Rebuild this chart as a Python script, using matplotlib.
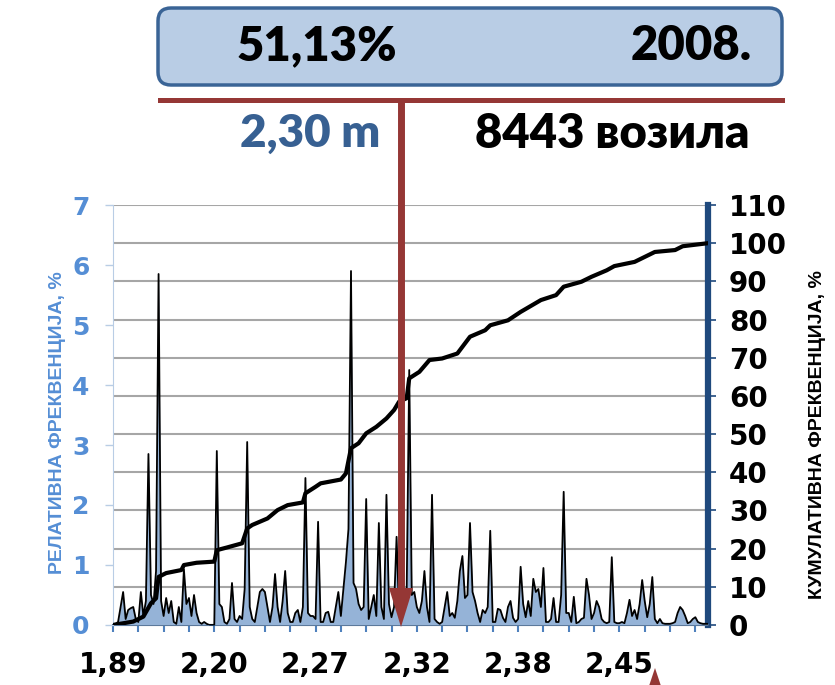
import matplotlib
matplotlib.use('Agg')
import matplotlib.pyplot as plt
import numpy as np
from matplotlib.patches import FancyBboxPatch, Polygon
from matplotlib.lines import Line2D

# relative frequency per width class, %
rel_freq = [
    0.02, 0.02, 0.05, 0.3, 0.55, 0.1, 0.25, 0.28, 0.3, 0.1,
    0.05, 0.55, 0.15, 0.4, 2.85, 0.5, 0.35, 0.9, 5.85, 0.4,
    0.15, 0.45, 0.2, 0.4, 0.05, 0.02, 0.3, 0.05, 0.93, 0.35,
    0.45, 0.15, 0.5, 0.2, 0.05, 0.02, 0.05, 0.02, 0.0, 0.0,
    0.0, 2.9, 0.35, 0.3, 0.05, 0.02, 0.1, 0.7, 0.1, 0.05,
    0.15, 0.1, 0.6, 3.05, 0.3, 0.1, 0.05, 0.3, 0.55, 0.6,
    0.55, 0.3, 0.05, 0.3, 0.85, 0.3, 0.05, 0.4, 0.9, 0.2,
    0.05, 0.05, 0.2, 0.25, 0.05, 0.3, 2.45, 0.2, 0.15, 0.15,
    0.1, 1.72, 0.05, 0.05, 0.2, 0.22, 0.05, 0.05, 0.3, 0.55,
    0.15, 0.6, 1.05, 1.6, 5.9, 0.7, 0.6, 0.35, 0.25, 0.3,
    2.1, 0.1, 0.3, 0.5, 0.15, 1.7, 0.3, 0.1, 2.17, 0.35,
    0.13, 0.3, 1.47, 0.2, 0.1, 0.5, 0.6, 4.25, 0.5, 0.55,
    0.3, 0.2, 0.4, 0.9, 0.3, 0.05, 2.17, 0.1, 0.05, 0.02,
    0.05, 0.3, 0.55, 0.15, 0.2, 0.12, 0.4, 0.9, 1.15, 0.45,
    0.5, 1.7, 0.55, 0.4, 0.2, 0.05, 0.25, 0.2, 0.3, 1.57,
    0.05, 0.05, 0.27, 0.25, 0.12, 0.05, 0.3, 0.4, 0.12, 0.05,
    0.1, 0.97, 0.35, 0.13, 0.4, 0.15, 0.77, 0.55, 0.6, 0.3,
    0.95, 0.05, 0.05, 0.1, 0.45, 0.05, 0.05, 0.5, 2.22, 0.2,
    0.2, 0.05, 0.47, 0.03, 0.05, 0.1, 0.12, 0.77, 0.5, 0.1,
    0.2, 0.4, 0.3, 0.1, 0.05, 0.03, 0.05, 1.13, 0.05, 0.03,
    0.03, 0.05, 0.03, 0.2, 0.42, 0.15, 0.25, 0.1, 0.35, 0.75,
    0.4, 0.13, 0.35, 0.8, 0.1, 0.03, 0.1, 0.03, 0.02, 0.02,
    0.02, 0.03, 0.05, 0.2, 0.3, 0.25, 0.15, 0.03, 0.05, 0.1,
    0.13, 0.05, 0.03, 0.02, 0.02, 0.02,
]

# cumulative frequency, read at class positions
cum_pos = [0, 8, 12, 15, 17, 18, 21, 27, 28, 33, 40, 41, 45, 51, 53, 55, 61,
           65, 69, 75, 76, 80, 82, 90, 92, 94, 97, 100, 104, 108, 111, 113,
           116, 117, 121, 125, 130, 136, 141, 147, 149, 156, 161, 169, 175,
           178, 185, 189, 195, 198, 206, 214, 222, 225, 235]
cum_pct = [0, 0.9, 2.2, 5.7, 7, 12.6, 13.6, 14.4, 15.7, 16.3, 16.6, 19.6, 20.3,
           21.4, 25.3, 26.2, 27.9, 30.1, 31.4, 32.1, 34.5, 36.2, 37.1, 38.1,
           39.7, 46.3, 47.6, 50.2, 51.9, 54.1, 56.3, 58.5, 59.4, 64.6, 66.3,
           69.4, 69.8, 71.1, 75.5, 77.2, 78.5, 79.8, 82, 85.1, 86.4, 88.6,
           89.9, 91.2, 92.9, 94, 95.1, 97.7, 98.2, 99.2, 100]

width_labels = ['1,89', '2,20', '2,27', '2,32', '2,38', '2,45']
tick_step = 10
label_every = 4

share_text = '51,13%'
year_text = '2008.'
width_text = '2,30 m'
count_text = '8443 возила'
left_title = 'РЕЛАТИВНА ФРЕКВЕНЦИЈА, %'
right_title = 'КУМУЛАТИВНА ФРЕКВЕНЦИЈА, %'

W, H = 835, 685
RED = '#953735'
head_font = ['Lato', 'Open Sans', 'DejaVu Sans']
tick_font = ['DejaVu Sans']
title_font = ['Liberation Sans', 'DejaVu Sans']


def inch(x, y):
    # picture pixels -> figure inches (origin bottom left)
    return x / 100, (H - y) / 100


fig = plt.figure(figsize=(W / 100, H / 100), dpi=100)
ax_r = fig.add_axes([113 / W, 60 / H, 595 / W, 420 / H])
ax_l = ax_r.twinx()
ax_c = ax_r.twinx()

x = np.arange(len(rel_freq))
ax_r.set_xlim(0, len(rel_freq) - 1)

# right axis: grid + thick blue spine
ax_r.set_ylim(0, 110)
ax_r.set_yticks(np.arange(0, 111, 10))
ax_r.yaxis.tick_right()
ax_r.grid(axis='y', color='#A6A6A6', lw=1.5)
ax_r.set_axisbelow(True)
for s in ['top', 'left']:
    ax_r.spines[s].set_visible(False)
ax_r.spines['right'].set_color('#1F497D')
ax_r.spines['right'].set_linewidth(4.5)
ax_r.spines['bottom'].set_color('#24405F')
ax_r.spines['bottom'].set_linewidth(1.5)
ax_r.tick_params(axis='y', direction='out', length=6, width=1.2,
                 color='#1F497D', pad=9, labelsize=20, labelcolor='black')
for t in ax_r.get_yticklabels():
    t.set_fontweight('bold')
    t.set_family(tick_font)

xt = np.arange(0, len(rel_freq), tick_step)
ax_r.set_xticks(xt)
ax_r.set_xticklabels([width_labels[i // label_every] if i % label_every == 0 else ''
                      for i in range(len(xt))])
ax_r.tick_params(axis='x', direction='out', length=5, width=1.5,
                 color='#4F81BD', pad=14, labelsize=20)
for t in ax_r.get_xticklabels():
    t.set_fontweight('bold')
    t.set_family(tick_font)

# left axis: relative frequency
ax_l.fill_between(x, rel_freq, 0, color='#95B3D7', lw=0)
ax_l.plot(x, rel_freq, color='black', lw=1.3)
ax_l.set_ylim(0, 7)
ax_l.yaxis.tick_left()
ax_l.set_yticks(range(8))
for s in ['top', 'right', 'bottom']:
    ax_l.spines[s].set_visible(False)
ax_l.spines['left'].set_color('#B9CDE5')
ax_l.tick_params(axis='y', direction='out', length=6, width=1,
                 color='#B9CDE5', pad=11, labelsize=18, labelcolor='#558ED5')
for t in ax_l.get_yticklabels():
    t.set_fontweight('bold')
    t.set_family(tick_font)

# cumulative line on top
ax_c.plot(cum_pos, cum_pct, color='black', lw=3, solid_joinstyle='round')
ax_c.set_ylim(0, 110)
ax_c.set_yticks([])
for s in ax_c.spines.values():
    s.set_visible(False)

fig.text(58 / W, 1 - 423 / H, left_title, rotation=90, ha='center', va='center',
         color='#558ED5', fontsize=14, fontweight='bold', family=title_font)
fig.text(818 / W, 1 - 435 / H, right_title, rotation=90, ha='center', va='center',
         color='black', fontsize=14, fontweight='bold', family=title_font)

# header
tr = fig.dpi_scale_trans
x0, y0 = inch(158, 85)
box = FancyBboxPatch((x0, y0), 6.24, 0.77, boxstyle='round,pad=0,rounding_size=0.13',
                     fc='#B9CDE5', ec='#3A6496', lw=2.5, transform=tr)
fig.add_artist(box)
fig.text(*inch(237, 46), share_text, transform=tr, ha='left', va='center',
         fontsize=34, fontweight='heavy', family=head_font)
fig.text(*inch(752, 46), year_text, transform=tr, ha='right', va='center',
         fontsize=34, fontweight='heavy', family=head_font)
fig.text(*inch(380, 134), width_text, transform=tr, ha='right', va='center',
         fontsize=33, fontweight='heavy', color='#376092', family=head_font)
fig.text(*inch(475, 134), count_text, transform=tr, ha='left', va='center',
         fontsize=34, fontweight='heavy', color='black', family=head_font)

hx, hy = zip(inch(160, 100), inch(782, 100))
fig.add_artist(Line2D(hx, hy, color=RED, lw=3.6, transform=tr))
vx, vy = zip(inch(401, 100), inch(401, 590))
fig.add_artist(Line2D(vx, vy, color=RED, lw=5, transform=tr, solid_capstyle='butt'))
fig.add_artist(Polygon([inch(389, 588), inch(413, 588), inch(401, 627)],
                       closed=True, fc=RED, ec='none', transform=tr))
fig.add_artist(Polygon([inch(649, 686), inch(661, 686), inch(655, 668)],
                       closed=True, fc=RED, ec='none', transform=tr))

fig.savefig('out.png', dpi=100)
